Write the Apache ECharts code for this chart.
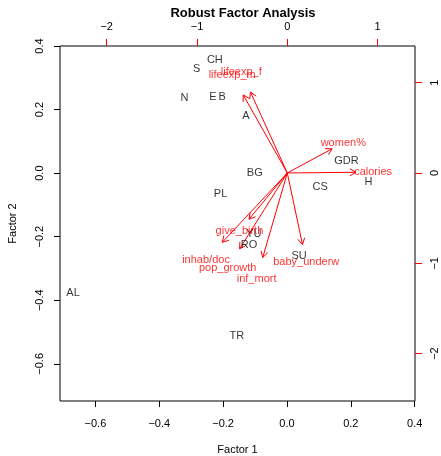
<!DOCTYPE html>
<html>
<head>
<meta charset="utf-8">
<script src="https://cdn.jsdelivr.net/npm/echarts@6/dist/echarts.min.js"></script>
<style>
  html, body { margin: 0; padding: 0; background: #fff; }
  #chart { width: 441px; height: 456px; }
</style>
</head>
<body>
<div id="chart"></div>
<script>
// Country scores on the first two robust factors
const countries = ['CH', 'S', 'N', 'E', 'B', 'A', 'BG', 'PL', 'GDR', 'CS', 'H', 'YU', 'RO', 'SU', 'AL', 'TR'];
const score1 = [-0.226, -0.283, -0.321, -0.232, -0.203, -0.129, -0.101, -0.208, 0.186, 0.104, 0.255, -0.104, -0.119, 0.038, -0.670, -0.157];
const score2 = [0.355, 0.327, 0.236, 0.241, 0.241, 0.179, 0.000, -0.066, 0.038, -0.044, -0.028, -0.192, -0.226, -0.261, -0.377, -0.513];

// Variable loadings (arrows are drawn to 80% of the loading, labels sit at the loading)
const variables = ['lifeexp_f', 'lifeexp_m', 'women%', 'calories', 'give_birth', 'inhab/doc', 'pop_growth', 'inf_mort', 'baby_underw'];
const loading1 = [-0.51, -0.61, 0.62, 0.95, -0.53, -0.90, -0.66, -0.34, 0.21];
const loading2 = [1.12, 1.08, 0.335, 0.01, -0.64, -0.96, -1.05, -1.17, -0.99];

// Tick positions
const scoreTicks = [-0.6, -0.4, -0.2, 0.0, 0.2, 0.4];
const loadingTicks = [-2, -1, 0, 1];

const FONT = '"Liberation Sans", Arial, Helvetica, sans-serif';
const RED = '#ff0000';
const fmtScore = v => v.toFixed(1).replace('-', '\u2212');
const fmtLoad = v => String(Math.round(v)).replace('-', '\u2212');

const chart = echarts.init(document.getElementById('chart'), null, { renderer: 'canvas' });

function primaryAxis(pos, min, max, rotate, margin) {
  return {
    type: 'value', position: pos, min: min, max: max,
    axisLine: { show: false, onZero: false },
    splitLine: { show: false },
    axisTick: { show: true, customValues: scoreTicks, length: 6, lineStyle: { color: '#000', width: 1 } },
    axisLabel: {
      show: true, customValues: scoreTicks, formatter: fmtScore, margin: margin, rotate: rotate,
      color: '#000', fontSize: 11, fontFamily: FONT
    }
  };
}

function secondaryAxis(pos, min, max, rotate) {
  return {
    type: 'value', position: pos, min: min, max: max,
    axisLine: { show: false, onZero: false },
    splitLine: { show: false },
    axisTick: { show: true, customValues: loadingTicks, length: 7, lineStyle: { color: RED, width: 1 } },
    axisLabel: {
      show: true, customValues: loadingTicks, formatter: fmtLoad, margin: 14, rotate: rotate,
      color: '#000', fontSize: 11, fontFamily: FONT
    }
  };
}

const xBottom = primaryAxis('bottom', -0.711, 0.401, 0, 17);
xBottom.name = 'Factor 1';
xBottom.nameLocation = 'middle';
xBottom.nameGap = 43;
xBottom.nameTextStyle = { color: '#000', fontSize: 11, fontFamily: FONT };

const yLeft = primaryAxis('left', -0.717, 0.400, 90, 15);
yLeft.name = 'Factor 2';
yLeft.nameLocation = 'middle';
yLeft.nameGap = 42;
yLeft.nameRotate = 90;
yLeft.nameTextStyle = { color: '#000', fontSize: 11, fontFamily: FONT };

const xTop = secondaryAxis('top', -2.517, 1.414, 0);
const yRight = secondaryAxis('right', -2.525, 1.406, 90);

const option = {
  animation: false,
  backgroundColor: '#fff',
  title: {
    text: 'Robust Factor Analysis',
    left: 238, top: 2, textAlign: 'center',
    textStyle: { fontSize: 13, fontWeight: 'bold', color: '#000', fontFamily: FONT }
  },
  grid: {
    left: 60, top: 46, width: 355, height: 355,
    outerBoundsMode: 'none', containLabel: false,
    show: true, borderColor: '#000', borderWidth: 1, backgroundColor: 'transparent'
  },
  xAxis: [xBottom, xTop],
  yAxis: [yLeft, yRight],
  series: [
    {
      // country labels
      type: 'scatter',
      xAxisIndex: 0, yAxisIndex: 0,
      symbolSize: 1,
      itemStyle: { color: 'rgba(0,0,0,0)' },
      data: countries.map((c, i) => ({ name: c, value: [score1[i], score2[i]] })),
      label: {
        show: true, position: 'inside', formatter: p => p.name,
        color: '#000', fontSize: 11, fontFamily: FONT
      },
      emphasis: { disabled: true },
      z: 3
    },
    {
      // loading arrows with open heads
      type: 'custom',
      coordinateSystem: 'cartesian2d',
      xAxisIndex: 1, yAxisIndex: 1,
      data: variables.map((v, i) => [loading1[i], loading2[i]]),
      renderItem: function (params, api) {
        const o = api.coord([0, 0]);
        const t = api.coord([api.value(0) * 0.8, api.value(1) * 0.8]);
        const ang = Math.atan2(t[1] - o[1], t[0] - o[0]);
        const L = 7, a = Math.PI / 6;
        const p1 = [t[0] - L * Math.cos(ang - a), t[1] - L * Math.sin(ang - a)];
        const p2 = [t[0] - L * Math.cos(ang + a), t[1] - L * Math.sin(ang + a)];
        return {
          type: 'group',
          children: [
            { type: 'line', shape: { x1: o[0], y1: o[1], x2: t[0], y2: t[1] }, style: { stroke: RED, lineWidth: 1 } },
            { type: 'polyline', shape: { points: [p1, t, p2] }, style: { stroke: RED, fill: null, lineWidth: 1 } }
          ]
        };
      },
      z: 2
    },
    {
      // variable names at the loading positions
      type: 'scatter',
      xAxisIndex: 1, yAxisIndex: 1,
      symbolSize: 1,
      itemStyle: { color: 'rgba(0,0,0,0)' },
      data: variables.map((v, i) => ({ name: v, value: [loading1[i], loading2[i]] })),
      label: {
        show: true, position: 'inside', formatter: p => p.name,
        color: RED, fontSize: 11, fontFamily: FONT
      },
      emphasis: { disabled: true },
      z: 4
    }
  ]
};

chart.setOption(option);
</script>
</body>
</html>
